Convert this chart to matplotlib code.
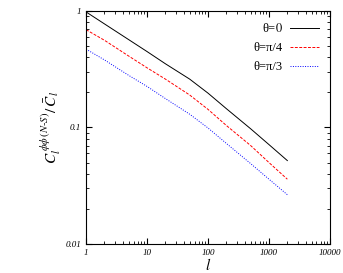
import matplotlib
matplotlib.use("Agg")
import matplotlib.pyplot as plt
import numpy as np

plt.rcParams['font.family'] = ['Liberation Serif', 'DejaVu Serif']
plt.rcParams['mathtext.fontset'] = 'stix'

# multipole l and ratio values
ell = np.array([1, 2, 5, 10, 20, 50, 100, 200, 500, 1000, 2000])
theta0 = np.array([0.98, 0.774, 0.567, 0.448, 0.352, 0.26, 0.197, 0.145, 0.0975, 0.0713, 0.052])
theta_pi4 = np.array([0.69, 0.56, 0.41, 0.325, 0.26, 0.19, 0.143, 0.104, 0.070, 0.050, 0.036])
theta_pi3 = np.array([0.47, 0.38, 0.28, 0.225, 0.177, 0.13, 0.099, 0.073, 0.049, 0.036, 0.0265])
labels = ['θ=$\\mathit{0}$', 'θ=π/4', 'θ=π/3']

fig = plt.figure(figsize=(3.43, 2.73), dpi=100)
ax = fig.add_axes([0.251, 0.106, 0.711, 0.854])

ax.plot(ell, theta0, color='black', lw=0.7, label=labels[0])
ax.plot(ell, theta_pi4, color='red', lw=0.7, ls=(0, (3, 1.5)), label=labels[1])
ax.plot(ell, theta_pi3, color='blue', lw=0.7, ls=(0, (1, 1.5)), label=labels[2])

ax.set_xscale('log')
ax.set_yscale('log')
ax.set_xlim(1, 10000)
ax.set_ylim(0.01, 1)
ax.set_xticks([1, 10, 100, 1000, 10000])
ax.set_xticklabels(['1', '10', '100', '1000', '10000'])
ax.set_yticks([0.01, 0.1, 1])
ax.set_yticklabels(['0.01', '0.1', '1'])
ax.tick_params(which='both', direction='in', top=True, right=True, labelsize=6.5)
ax.tick_params(which='major', length=4)
ax.tick_params(which='minor', length=2)
for t in ax.get_xticklabels() + ax.get_yticklabels():
    t.set_fontstyle('italic')

ax.set_xlabel(r'$l$', fontsize=11, labelpad=0)
ax.set_ylabel(r'$C_l^{\,\phi\phi\,(N\text{-}S)}/\,\bar{C}_l$', fontsize=11, labelpad=2)

ax.legend(loc='upper right', frameon=False, markerfirst=False, fontsize=9,
          handlelength=2.3, handletextpad=0.6, labelspacing=0.55,
          borderaxespad=0.5)

fig.savefig('out.png', dpi=100)
